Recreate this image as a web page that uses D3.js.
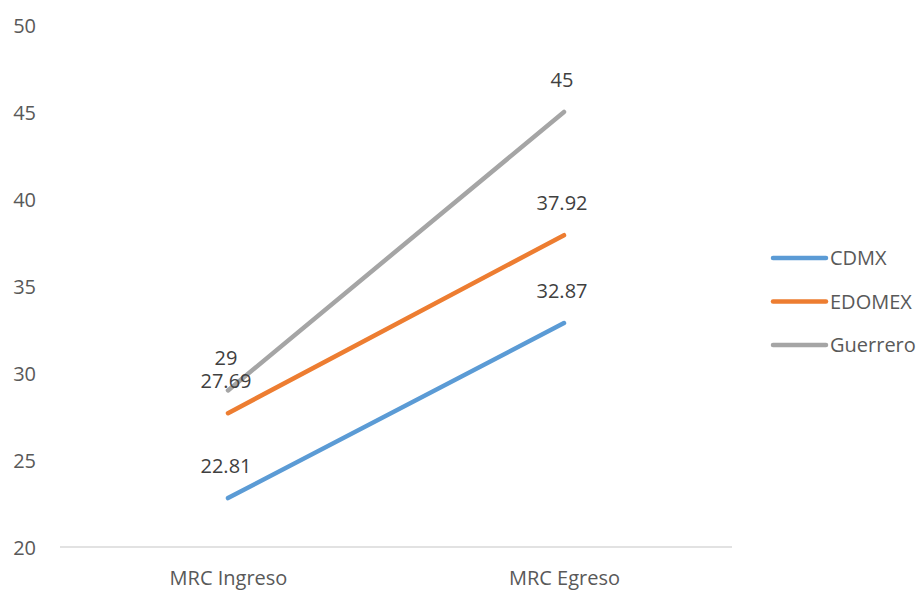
<!DOCTYPE html>
<html>
<head>
<meta charset="utf-8">
<script src="https://cdn.jsdelivr.net/npm/d3@7"></script>
<style>
  html, body { margin: 0; padding: 0; background: #fff; }
  svg text { font-family: "Open Sans", "Noto Sans", sans-serif; }
</style>
</head>
<body>
<svg id="chart" width="922" height="591"></svg>
<script>
// Stages measured and the score series for each state
const categories = ["MRC Ingreso", "MRC Egreso"];
const seriesNames = ["CDMX", "EDOMEX", "Guerrero"];
const cdmx = [22.81, 32.87];
const edomex = [27.69, 37.92];
const guerrero = [29, 45];
const yTicks = [20, 25, 30, 35, 40, 45, 50];
const colors = ["#5B9BD5", "#ED7D31", "#A5A5A5"];

const series = [
  { name: seriesNames[0], values: cdmx, color: colors[0] },
  { name: seriesNames[1], values: edomex, color: colors[1] },
  { name: seriesNames[2], values: guerrero, color: colors[2] }
];

const svg = d3.select("#chart");
const plot = { left: 60, right: 732, top: 25, bottom: 547 };
const fontSize = 20;

const x = d3.scalePoint()
  .domain(categories)
  .range([plot.left, plot.right])
  .padding(0.5);

const y = d3.scaleLinear()
  .domain([20, 50])
  .range([plot.bottom, plot.top]);

// Y axis: labels only, no line or ticks
const yAxis = svg.append("g")
  .attr("transform", `translate(${plot.left - 24},0)`)
  .call(d3.axisLeft(y).tickValues(yTicks).tickSize(0).tickPadding(0));
yAxis.select(".domain").remove();
yAxis.selectAll("text")
  .attr("fill", "#595959")
  .attr("font-size", fontSize)
  .attr("dy", "0.35em");

// X axis baseline and category labels
const xAxis = svg.append("g")
  .attr("transform", `translate(0,${plot.bottom})`)
  .call(d3.axisBottom(x).tickSize(0).tickPadding(24));
xAxis.select(".domain")
  .attr("d", `M${plot.left},0H${plot.right}`)
  .attr("stroke", "#D9D9D9")
  .attr("stroke-width", 1.3);
xAxis.selectAll("text")
  .attr("fill", "#595959")
  .attr("font-size", fontSize);

// Series lines
const line = d3.line()
  .x((d, i) => x(categories[i]))
  .y(d => y(d));

svg.append("g")
  .selectAll("path")
  .data(series)
  .join("path")
  .attr("d", d => line(d.values))
  .attr("fill", "none")
  .attr("stroke", d => d.color)
  .attr("stroke-width", 4.5)
  .attr("stroke-linecap", "round");

// Value labels above each point
const labels = svg.append("g");
series.forEach(s => {
  s.values.forEach((v, i) => {
    labels.append("text")
      .attr("x", x(categories[i]) - 2)
      .attr("y", y(v) - 25)
      .attr("text-anchor", "middle")
      .attr("fill", "#404040")
      .attr("font-size", fontSize)
      .text(v);
  });
});

// Legend
const legend = svg.append("g")
  .selectAll("g")
  .data(series)
  .join("g")
  .attr("transform", (d, i) => `translate(773,${258 + i * 43.5})`);
legend.append("line")
  .attr("x1", 0).attr("x2", 53)
  .attr("stroke", d => d.color)
  .attr("stroke-width", 4.5)
  .attr("stroke-linecap", "round");
legend.append("text")
  .attr("x", 57)
  .attr("dy", "0.35em")
  .attr("fill", "#595959")
  .attr("font-size", fontSize)
  .text(d => d.name);
</script>
</body>
</html>
